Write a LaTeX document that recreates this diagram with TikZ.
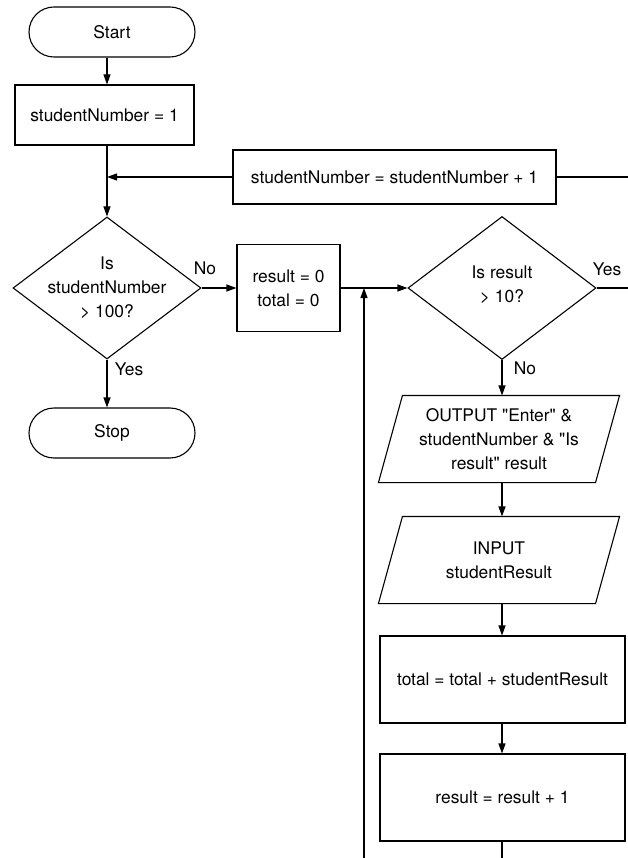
\documentclass[tikz,border=0pt]{standalone}
\usepackage{fontspec}
\setmainfont{TeX Gyre Heros}
\usetikzlibrary{shapes.geometric,arrows.meta}
\begin{document}
\begin{tikzpicture}[x=1pt,y=-1pt,
  every node/.style={font=\fontsize{17.4}{24}\selectfont, align=center},
  every path/.style={line width=1.1pt},
  arr/.style={-{Triangle[length=10pt,width=7pt]}},
  term/.style={draw, rectangle, rounded corners=25pt, minimum width=166pt, minimum height=50pt, inner sep=0pt},
  procbox/.style={draw, rectangle, inner sep=0pt},
  decbox/.style={draw, diamond, inner sep=0pt, minimum width=188pt, minimum height=142pt},
  iobox/.style={rectangle, inner sep=0pt, minimum width=216pt, minimum height=86pt},
  lbl/.style={inner sep=0pt}
]
\useasboundingbox (0,0) rectangle (628,858);
\coordinate (spine) at (107,0);
% nodes
\node[term] (start) at (112,32) {Start};
\node[procbox, minimum width=179pt, minimum height=60pt] (sn1) at (104.5,115) {studentNumber = 1};
\node[procbox, minimum width=323pt, minimum height=54pt] (inc) at (394.5,177) {studentNumber = studentNumber + 1};
\node[decbox] (d1) at (107,288) {};
\node at (d1) {Is\\studentNumber\\> 100?};
\node[procbox, minimum width=103pt, minimum height=87pt] (r0) at (288.5,288) {result = 0\\total = 0};
\node[decbox, minimum height=143pt] (d2) at (502,288) {};
\node at ([yshift=3pt]d2.center) {Is result\\> 10?};
\node[term] (stop) at (112,433) {Stop};
\node[iobox] (out1) at (499,439) {OUTPUT \textquotedbl Enter\textquotedbl{} \&\\studentNumber \& \textquotedbl Is\\result\textquotedbl{} result};
\draw ([xshift=12pt]out1.north west) -- ([xshift=12pt]out1.north east) -- ([xshift=-12pt]out1.south east) -- ([xshift=-12pt]out1.south west) -- cycle;
\node[iobox] (inp) at (499,560) {INPUT\\studentResult};
\draw ([xshift=12pt]inp.north west) -- ([xshift=12pt]inp.north east) -- ([xshift=-12pt]inp.south east) -- ([xshift=-12pt]inp.south west) -- cycle;
\node[procbox, minimum width=245pt, minimum height=87pt] (tot) at (502.5,679.5) {total = total + studentResult};
\node[procbox, minimum width=245pt, minimum height=87pt] (res) at (502.5,797.5) {result = result + 1};
% free ends
\coordinate (rightA) at (628,177);
\coordinate (rightB) at (628,288);
\coordinate (bottomL) at (364,858);
\coordinate (bottomR) at (502,858);
% connectors
\draw[arr] (start.south -| spine) -- (sn1.north -| spine);
\draw[arr] (sn1.south -| d1) -- (d1.north);
\draw[arr] (inc.west) -- (inc.west -| d1);
\draw (inc.east) -- (rightA);
\draw[arr] (d1.east) -- (r0.west);
\node[lbl] at (205,268) {No};
\draw[arr] (d1.south) -- (d1.south |- stop.north);
\node[lbl] at (129,369) {Yes};
\draw[arr] (r0.east) -- (d2.west);
\draw[arr] (bottomL) -- (bottomL |- r0.east);
\draw (d2.east) -- (rightB);
\node[lbl] at (607,269) {Yes};
\draw[arr] (d2.south) -- (d2.south |- out1.north);
\node[lbl] at (525,368) {No};
\draw[arr] (d2.south |- out1.south) -- (d2.south |- inp.north);
\draw[arr] (d2.south |- inp.south) -- (d2.south |- tot.north);
\draw[arr] (d2.south |- tot.south) -- (d2.south |- res.north);
\draw (d2.south |- res.south) -- (bottomR);
\end{tikzpicture}
\end{document}
